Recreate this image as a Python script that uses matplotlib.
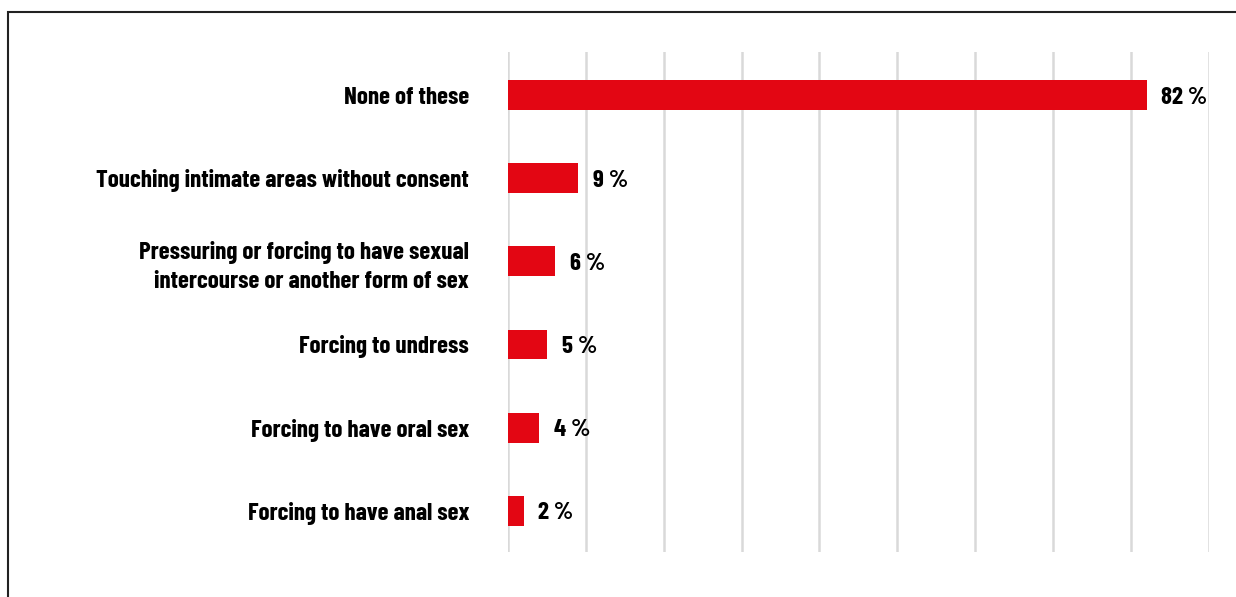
import matplotlib.pyplot as plt
from matplotlib.patches import Rectangle

categories = [
    "None of these",
    "Touching intimate areas without consent",
    "Pressuring or forcing to have sexual\nintercourse or another form of sex",
    "Forcing to undress",
    "Forcing to have oral sex",
    "Forcing to have anal sex",
]
values = [82, 9, 6, 5, 4, 2]
value_labels = ["82 %", "9 %", "6 %", "5 %", "4 %", "2 %"]

plt.rcParams["font.family"] = ["Barlow Condensed", "DejaVu Sans"]
plt.rcParams["font.weight"] = "bold"

fig = plt.figure(figsize=(12.36, 5.97), dpi=100)
ax = fig.add_axes([0.411, 0.075, 0.567, 0.838])

pos = list(range(len(categories)))
ax.barh(pos, values, height=0.36, color="#e30613", zorder=3)
for p, v, lab in zip(pos, values, value_labels):
    ax.text(v + 1.9, p + 0.03, lab, va="center", ha="left", fontsize=18, fontweight="bold")

ax.set_xlim(0, 90)
ax.set_ylim(len(categories) - 0.5, -0.52)
ax.set_xticks(range(0, 91, 10))
ax.set_xticklabels([])
ax.set_yticks(pos)
ax.set_yticklabels(categories, fontsize=18, fontweight="bold", ha="right", linespacing=1.4)
ax.tick_params(axis="y", length=0, pad=28)
ax.tick_params(axis="x", length=0)
ax.grid(axis="x", color="#d9d9d9", linewidth=1.8, zorder=0)
for s in ax.spines.values():
    s.set_visible(False)

# outer frame, running off the right and bottom edges
fig.patches.append(Rectangle((8 / 1236, -0.1), 1.2, 1.1 - 12 / 597, transform=fig.transFigure,
                             fill=False, edgecolor="#222222", linewidth=1.5))

fig.savefig("out.png", dpi=100)
